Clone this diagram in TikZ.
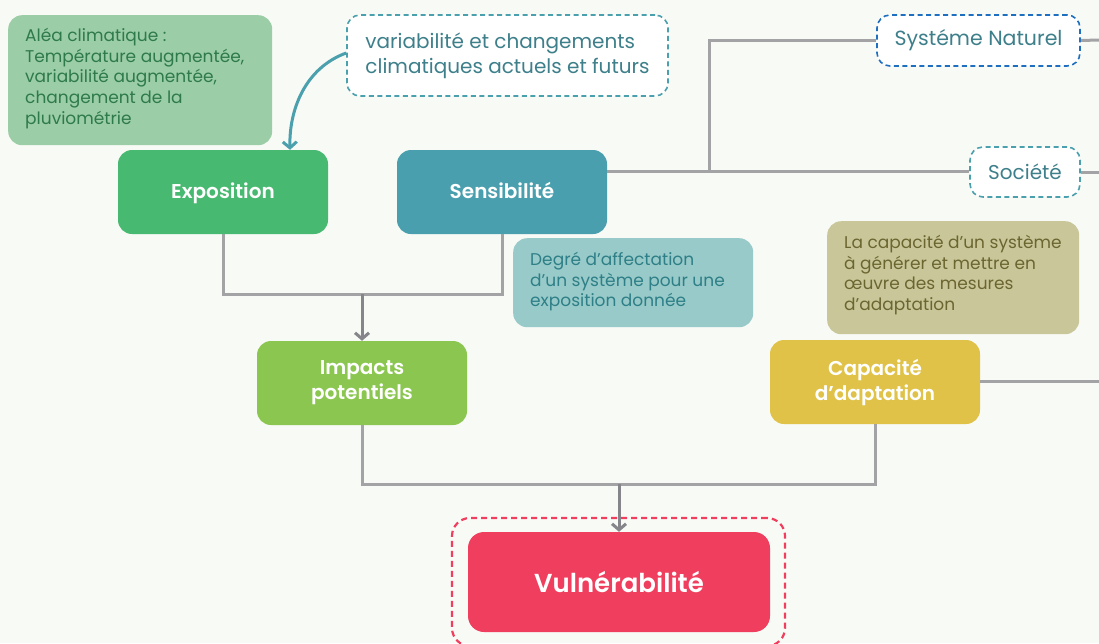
\documentclass[tikz,border=0pt]{standalone}
\usepackage{fontspec}
\setmainfont{Poppins}[BoldFont={* SemiBold}]
\usetikzlibrary{arrows.meta,positioning}
\definecolor{bgc}{HTML}{F8FAF6}
\definecolor{lineg}{HTML}{A3A3A6}
\definecolor{arrg}{HTML}{86868A}
\definecolor{teal}{HTML}{4BA0AE}
\definecolor{tealtxt}{HTML}{3D7F8A}
\definecolor{expo}{HTML}{48B970}
\definecolor{sensi}{HTML}{4A9FAE}
\definecolor{impact}{HTML}{8BC750}
\definecolor{capa}{HTML}{DFC247}
\definecolor{vuln}{HTML}{F03E5E}
\definecolor{aleafill}{HTML}{9BCDA6}
\definecolor{aleatxt}{HTML}{2E7A4B}
\definecolor{degfill}{HTML}{98CAC9}
\definecolor{degtxt}{HTML}{2E7F87}
\definecolor{capfill}{HTML}{C9C79A}
\definecolor{captxt}{HTML}{6B6530}
\definecolor{natblue}{HTML}{1F6FC0}
\tikzset{
  mainbox/.style={rounded corners=14pt, minimum width=210pt, minimum height=84pt, text=white, align=center, font=\fontsize{20}{25}\selectfont\bfseries, inner sep=0pt},
  oneline/.style={text height=15pt, text depth=2pt},
  descbox/.style={rounded corners=14pt, anchor=north west, inner sep=0pt},
  desctext/.style={anchor=north west, inner sep=0pt, align=left, font=\fontsize{17}{20.7}\selectfont},
  dashbox/.style={rounded corners=13pt, draw, dashed, dash pattern=on 5pt off 3.5pt, line width=1.6pt, fill=white, text=tealtxt, inner sep=0pt},
  conn/.style={draw=lineg, line width=3pt},
  garrow/.style={-{Straight Barb[length=6pt,width=14pt,line width=3pt]}, arrg},
}
\begin{document}
\begin{tikzpicture}[x=1pt,y=-1pt]
\fill[bgc] (0,0) rectangle (1099,643);
\useasboundingbox (0,0) rectangle (1099,643);

% description boxes
\node[descbox, fill=aleafill, minimum width=264pt, minimum height=130pt] (alea) at (8,15) {};
\node[desctext, text=aleatxt] (aleatext) at (25,28) {Aléa climatique :\\Température augmentée,\\variabilité augmentée,\\changement de la\\pluviométrie};

\node[descbox, fill=degfill, minimum width=240pt, minimum height=89pt] (deg) at (513,238) {};
\node[desctext, text=degtxt] (degtext) at (530,252) {Degré d’affectation\\d’un système pour une\\exposition donnée};

\node[descbox, fill=capfill, minimum width=252pt, minimum height=113pt] (capd) at (827,221) {};
\node[desctext, text=captxt] (captext) at (844,235) {La capacité d’un système\\à générer et mettre en\\œuvre des mesures\\d’adaptation};

% dashed boxes
\node[dashbox, draw=teal, minimum width=321pt, minimum height=81pt, align=left, font=\fontsize{20}{25}\selectfont] (var) at (507.5,55.5) {variabilité et changements\\climatiques actuels et futurs};
\node[dashbox, draw=natblue, minimum width=203pt, minimum height=51pt, font=\fontsize{20.5}{25}\selectfont] (nat) at (978.5,40.5) {Systéme Naturel};
\node[dashbox, draw=teal, minimum width=110pt, minimum height=50pt, font=\fontsize{20}{25}\selectfont] (soc) at (1025,172) {Société};

% main boxes
\node[mainbox, oneline, fill=expo] (expo) at (223,192) {Exposition};
\node[mainbox, oneline, fill=sensi] (sens) at (502,192) {Sensibilité};
\node[mainbox, fill=impact] (imp) at (362,383) {Impacts\\potentiels};
\node[mainbox, fill=capa] (cap) at (875,382) {Capacité\\d’daptation};
\node[rounded corners=16pt, fill=vuln, minimum width=302pt, minimum height=100pt, text=white, font=\fontsize{26}{30}\selectfont\bfseries, inner sep=0pt] (vul) at (619,582) {Vulnérabilité};
\node[draw=vuln, dashed, dash pattern=on 6pt off 4pt, line width=2.2pt, rounded corners=18pt, minimum width=333pt, minimum height=128pt, inner sep=0pt] (vulframe) at (618.5,582) {};

% coordinates
\coordinate (j1) at (362,294);
\coordinate (j2) at (619,484);
\coordinate (k) at (709,171);
\coordinate (natR) at (1099,40);
\coordinate (socR) at (1099,172);
\coordinate (capR) at (1099,381);

% connectors
\draw[conn] (expo.south) -- (expo.south |- j1) -- (sens.south |- j1) -- (sens.south);
\draw[conn, garrow] (j1) -- (imp.north);
\draw[conn] (imp.south) -- (imp.south |- j2) -- (cap.south |- j2) -- (cap.south);
\draw[conn, garrow] (j2) -- (vul.north);
\draw[conn] (sens.east |- k) -- (soc.west |- k);
\draw[conn] (k) -- (k |- nat.west) -- (nat.west);
\draw[conn] (nat.east) -- (natR);
\draw[conn] (soc.east) -- (socR);
\draw[conn] (cap.east |- capR) -- (capR);

% curved arrow
\draw[teal, line width=3pt, -{Straight Barb[length=6pt,width=14pt,line width=3pt]}] (var.west |- 0,53) .. controls (305,68) and (289,110) .. (expo.north -| 290,0);
\end{tikzpicture}
\end{document}
